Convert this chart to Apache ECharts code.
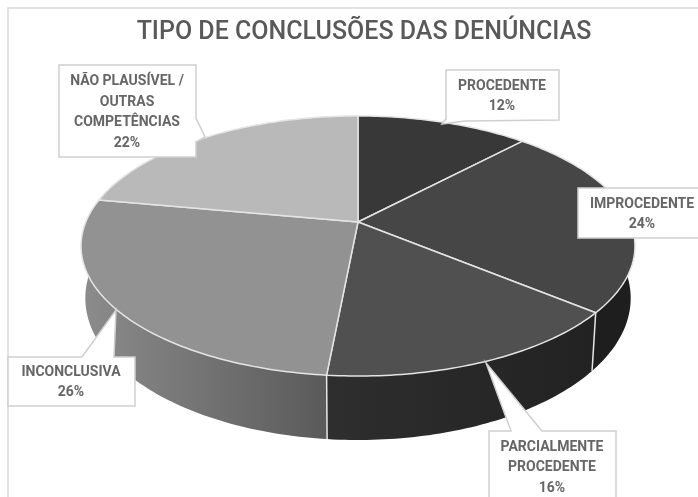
<!DOCTYPE html>
<html>
<head>
<meta charset="utf-8">
<style>html,body{margin:0;padding:0;background:#fff}#main{width:698px;height:497px}</style>
<script src="https://cdn.jsdelivr.net/npm/echarts@6/dist/echarts.min.js"></script>
</head>
<body>
<div id="main"></div>
<script>
var titleText = 'TIPO DE CONCLUSÕES DAS DENÚNCIAS';
var categories = ['PROCEDENTE', 'IMPROCEDENTE', 'PARCIALMENTE PROCEDENTE', 'INCONCLUSIVA', 'NÃO PLAUSÍVEL / OUTRAS COMPETÊNCIAS'];
// shares as drawn, the labels show them rounded
var values = [12, 24, 15.5, 26.4, 22.1];
var labelLines = [
    ['PROCEDENTE'],
    ['IMPROCEDENTE'],
    ['PARCIALMENTE', 'PROCEDENTE'],
    ['INCONCLUSIVA'],
    ['NÃO PLAUSÍVEL /', 'OUTRAS', 'COMPETÊNCIAS']
];
var topColors = ['#383838', '#464646', '#505050', '#929292', '#b9b9b9'];
var wallColors = [['#1e1e1e', '#1e1e1e'], ['#1e1e1e', '#1e1e1e'], ['#222222', '#2e2e2e'], ['#5a5a5a', '#8c8c8c'], ['#8c8c8c', '#8c8c8c']];

// perspective of the disc, top face and bottom face
var tilt = 0.1846;
var topFace = { cx: 358, cy: 222, rx: 272.2, ry: 125.6 };
var bottomFace = { cx: 358, cy: 272, rx: 268, ry: 137 };

// callout boxes: rect [x, y, w, h], pointer outline goes clockwise from the box corner it follows
var callouts = [
    { box: [446, 70, 113, 50], cx: 502, cy: 96.5, pointer: 'bottom', pts: [[465, 121], [442, 124], [446, 120]] },
    { box: [578, 188, 140, 50], cx: 642, cy: 214.5 },
    { box: [489, 431, 127, 80], cx: 552, cy: 467.5, pointer: 'top', pts: [[511, 431], [486, 363], [542, 431]] },
    { box: [8, 357, 127, 49], cx: 71, cy: 382.5, pointer: 'top', pts: [[82, 357], [116, 310], [114, 357]] },
    { box: [59, 65, 137, 92], cx: 127, cy: 112.5, pointer: 'right', pts: [[196, 118], [205, 137], [196, 142]] }
];

var total = values.reduce(function (a, b) { return a + b; }, 0);

function startAngle(i) {
    var sum = 0;
    for (var k = 0; k < i; k++) sum += values[k];
    return sum / total * 360;
}

function project(deg, face) {
    var rad = deg * Math.PI / 180;
    var x = Math.sin(rad), y = -Math.cos(rad);
    var w = 1 - tilt * y;
    return [face.cx + face.rx * x / w, face.cy + face.ry * y / w];
}

function arc(from, to, face) {
    var pts = [];
    var steps = Math.max(2, Math.ceil(to - from));
    for (var s = 0; s <= steps; s++) pts.push(project(from + (to - from) * s / steps, face));
    return pts;
}

function calloutPoints(c) {
    var b = c.box, x = b[0], y = b[1], r = x + b[2], d = y + b[3];
    var top = c.pointer === 'top' ? c.pts : [];
    var right = c.pointer === 'right' ? c.pts : [];
    var bottom = c.pointer === 'bottom' ? c.pts : [];
    return [[x, y]].concat(top, [[r, y]], right, [[r, d]], bottom.length ? [[r, d], bottom[0], bottom[1], [x, d - 1]] : [], [[x, d]]);
}

var seriesData = categories.map(function (name, i) {
    return { name: name, value: [i, values[i]] };
});

var chart = echarts.init(document.getElementById('main'), null, { renderer: 'canvas' });

chart.setOption({
    animation: false,
    backgroundColor: '#ffffff',
    title: {
        text: titleText,
        left: 359,
        top: 15,
        textAlign: 'center',
        textStyle: { fontFamily: 'Roboto', fontSize: 25, fontWeight: 500, color: '#595959' }
    },
    graphic: [{
        type: 'polyline',
        silent: true,
        z: 0,
        shape: { points: [[8, 500], [8, 8], [700, 8]] },
        style: { stroke: '#d9d9d9', lineWidth: 1.5, fill: null }
    }],
    series: [
        {
            // side wall, the top face covers the back part
            type: 'custom',
            coordinateSystem: 'none',
            z: 2,
            data: seriesData,
            renderItem: function (params, api) {
                var i = api.value(0);
                var from = startAngle(i);
                var to = from + api.value(1) / total * 360;
                var upper = arc(from, to, topFace);
                var lower = arc(from, to, bottomFace);
                var xs = lower.concat(upper).map(function (p) { return p[0]; });
                return {
                    type: 'group',
                    children: [{
                        type: 'polygon',
                        shape: { points: upper.concat(lower.reverse()) },
                        style: {
                            fill: {
                                type: 'linear', global: true,
                                x: Math.max.apply(null, xs), y: 0, x2: Math.min.apply(null, xs), y2: 0,
                                colorStops: [{ offset: 0, color: wallColors[i][0] }, { offset: 1, color: wallColors[i][1] }]
                            }
                        }
                    }, {
                        type: 'line',
                        shape: {
                            x1: project(from, topFace)[0], y1: project(from, topFace)[1],
                            x2: project(from, bottomFace)[0], y2: project(from, bottomFace)[1]
                        },
                        style: { stroke: '#e6e6e6', lineWidth: 1.5 }
                    }]
                };
            }
        },
        {
            // top face
            type: 'custom',
            coordinateSystem: 'none',
            z: 3,
            data: seriesData,
            renderItem: function (params, api) {
                var i = api.value(0);
                var from = startAngle(i);
                var to = from + api.value(1) / total * 360;
                return {
                    type: 'polygon',
                    shape: { points: [[topFace.cx, topFace.cy]].concat(arc(from, to, topFace)) },
                    style: { fill: topColors[i], stroke: '#e4e4e4', lineWidth: 1.5, lineJoin: 'round' }
                };
            }
        },
        {
            // data labels with their callouts
            type: 'custom',
            coordinateSystem: 'none',
            z: 4,
            data: seriesData,
            renderItem: function (params, api) {
                var i = api.value(0);
                var c = callouts[i];
                var lines = labelLines[i].concat(Math.round(api.value(1)) + '%');
                return {
                    type: 'group',
                    children: [{
                        type: 'polygon',
                        shape: { points: calloutPoints(c) },
                        style: { fill: '#ffffff', stroke: '#cfcfcf', lineWidth: 1.5 }
                    }, {
                        type: 'text',
                        style: {
                            text: lines.join('\n'),
                            x: c.cx,
                            y: c.cy,
                            align: 'center',
                            verticalAlign: 'middle',
                            lineHeight: 20.5,
                            fontFamily: 'Roboto',
                            fontSize: 14,
                            fontWeight: 700,
                            fill: '#666666'
                        }
                    }]
                };
            }
        }
    ]
});

window.addEventListener('resize', function () {
    chart.resize();
});
</script>
</body>
</html>
